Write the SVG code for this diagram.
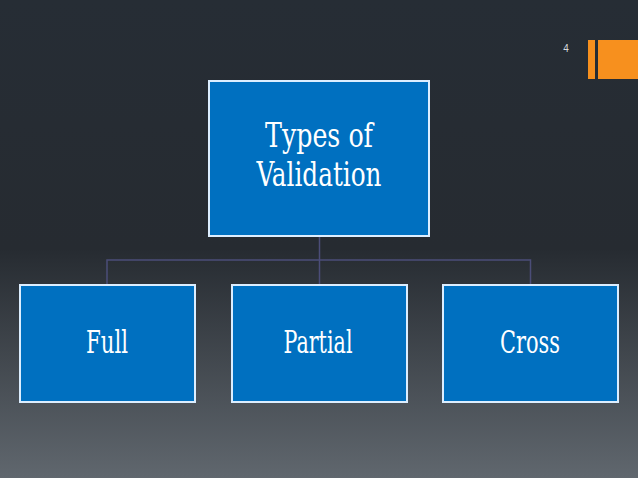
<svg xmlns="http://www.w3.org/2000/svg" width="638" height="478" viewBox="0 0 638 478">
<defs>
<linearGradient id="bg" x1="0" y1="0" x2="0" y2="1">
<stop offset="0" stop-color="#262d35"/>
<stop offset="0.52" stop-color="#262b31"/>
<stop offset="1" stop-color="#60676e"/>
</linearGradient>
<style>
.box{fill:#0070c0;stroke:#dceeff;stroke-width:2}
.lbl{font-family:"DejaVu Serif Condensed","DejaVu Serif","Liberation Serif",serif;font-stretch:condensed;fill:#ffffff;text-anchor:middle}
.conn{fill:none;stroke:#4b4d78;stroke-width:1.5}
</style>
</defs>
<rect x="0" y="0" width="638" height="478" fill="url(#bg)"/>
<rect x="588" y="40" width="7" height="39" fill="#f7901e"/>
<rect x="598" y="40" width="40" height="39" fill="#f7901e"/>
<text x="566" y="52" font-family="Liberation Sans,Arial,sans-serif" font-size="10" fill="#d8dade" text-anchor="middle">4</text>
<g id="connectors">
<path class="conn" d="M319.5 236 V260 M107 284 V260 H530.5 V284 M319.5 260 V284"/>
</g>
<g id="top">
<rect class="box" x="209" y="81" width="220" height="155"/>
<text class="lbl" x="319" y="147" font-size="33" textLength="108" lengthAdjust="spacingAndGlyphs">Types of</text>
<text class="lbl" x="319" y="186" font-size="34" textLength="125" lengthAdjust="spacingAndGlyphs">Validation</text>
</g>
<g id="full">
<rect class="box" x="20" y="285" width="175" height="117"/>
<text class="lbl" x="107" y="353" font-size="32" textLength="42" lengthAdjust="spacingAndGlyphs">Full</text>
</g>
<g id="partial">
<rect class="box" x="232" y="285" width="175" height="117"/>
<text class="lbl" x="318" y="353" font-size="32" textLength="69" lengthAdjust="spacingAndGlyphs">Partial</text>
</g>
<g id="cross">
<rect class="box" x="443" y="285" width="175" height="117"/>
<text class="lbl" x="530" y="353" font-size="32" textLength="60" lengthAdjust="spacingAndGlyphs">Cross</text>
</g>
</svg>
